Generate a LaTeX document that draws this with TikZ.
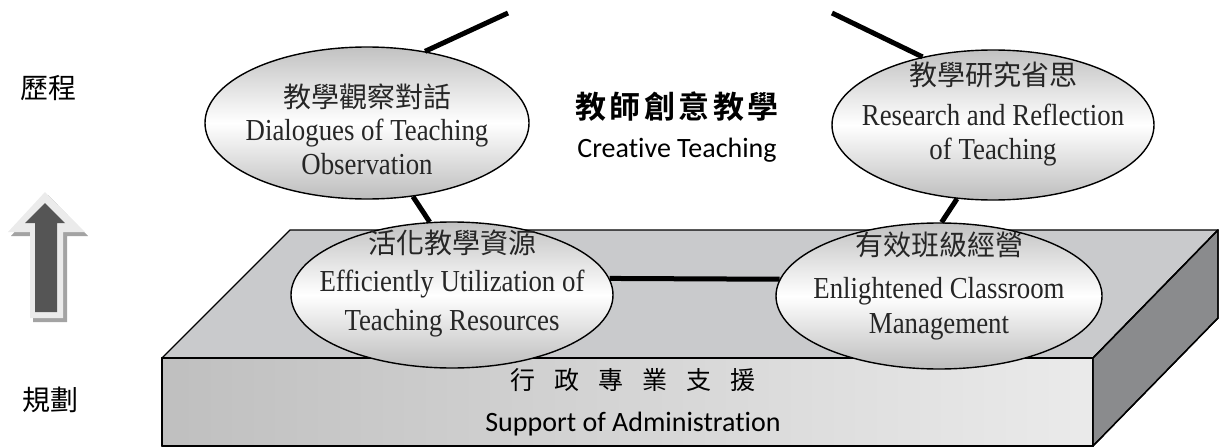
\documentclass[tikz,border=0pt]{standalone}
\usepackage{fontspec}
\setmainfont{Liberation Serif}[FakeStretch=0.88]
\newfontfamily\cjk{Noto Sans CJK TC}
\newfontfamily\cjkbold{Noto Sans CJK TC Bold}[LetterSpace=11]
\newfontfamily\cjkwide{Noto Sans CJK TC}[WordSpace=3.4]
\newfontfamily\carl{Carlito}[Ligatures=NoCommon]
\usetikzlibrary{shapes.geometric}
\definecolor{topface}{HTML}{C9CACC}
\definecolor{sideface}{HTML}{8A8B8D}
\definecolor{arrdark}{HTML}{555555}
\definecolor{arrlight}{HTML}{EBEBEB}
\definecolor{arrshadow}{HTML}{A3A3A3}
\tikzset{
  oval/.style={ellipse, draw=black, line width=1.4pt, inner sep=0pt,
    minimum width=324pt, minimum height=152pt,
    top color=black!24, bottom color=black!26, middle color=white},
  face/.style={draw=black, line width=1.4pt, line join=round},
  link/.style={line width=5pt, black},
  cjktext/.style={font=\cjk\fontsize{28}{30}\selectfont, inner sep=0pt, text=black!85},
  entext/.style={font=\fontsize{30.5}{32}\selectfont, inner sep=0pt, text=black!85},
  sidelabel/.style={font=\cjk\fontsize{28}{30}\selectfont, inner sep=0pt}
}
\begin{document}
\begin{tikzpicture}[x=1pt,y=-1pt]
\useasboundingbox (0,0) rectangle (1224,447);
% arrow
\fill[arrshadow] (48,195) -- (88,236) -- (67,236) -- (67,322) -- (33,322) -- (33,236) -- (11,236) -- cycle;
\fill[arrlight] (45,192) -- (85,232) -- (63,232) -- (63,318) -- (30,318) -- (30,232) -- (8,232) -- cycle;
\fill[arrdark] (45,203) -- (65,223) -- (57,223) -- (57,312) -- (35,312) -- (35,223) -- (25,223) -- cycle;
% side labels
\node[sidelabel] (lp) at (48,88) {歷程};
\node[sidelabel] (lg) at (51,400) {規劃};
% slab
\fill[face, fill=topface] (162,358) -- (290,230) -- (1218,230) -- (1093,358) -- cycle;
\fill[face, left color=black!25, right color=black!8] (162,358) rectangle (1093,446);
\draw[face] (162,358) rectangle (1093,446);
\fill[face, fill=sideface] (1093,358) -- (1218,230) -- (1218,318) -- (1093,446) -- cycle;
\draw[face] (1093,358) -- (1218,230) -- (1218,318) -- (1093,446) -- cycle;
% ellipses
\node[oval] (E1) at (367,123) {};
\node[oval, minimum width=322pt, minimum height=150pt] (E2) at (993,125) {};
\node[oval, minimum width=322pt, minimum height=146pt] (E3) at (452,295) {};
\node[oval, minimum width=326pt, minimum height=146pt] (E4) at (939,296) {};
% connectors
\coordinate (t1) at (508,13);
\coordinate (t2) at (832,13);
\draw[link] (E1.51) -- (t1);
\draw[link] (E2.136) -- (t2);
\draw[link] (E1.-58) -- (E3.107);
\draw[link] (E2.-116) -- (E4.88);
\draw[link] (E3.6) -- (E4.174);
% ellipse texts
\node[cjktext] (E1a) at (367,97) {教學觀察對話};
\node[entext] (E1b) at (367,133) {Dialogues of Teaching};
\node[entext] (E1c) at (367,164) {Observation};
\node[cjktext] (E2a) at (993,75) {教學研究省思};
\node[entext] (E2b) at (993,115) {Research and Reflection};
\node[entext] (E2c) at (993,152) {of Teaching};
\node[cjktext] (E3a) at (452,243) {活化教學資源};
\node[entext] (E3b) at (452,284) {Efficiently Utilization of};
\node[entext] (E3c) at (452,323) {Teaching Resources};
\node[cjktext] (E4a) at (939,245) {有效班級經營};
\node[entext] (E4b) at (939,291) {Enlightened Classroom};
\node[entext] (E4c) at (939,327) {Management};
% title
\node[font=\cjkbold\fontsize{31}{33}\selectfont, inner sep=0pt] (T1) at (677,107) {教師創意教學};
\node[font=\carl\fontsize{28}{30}\selectfont, inner sep=0pt] (T2) at (677,150) {Creative Teaching};
% bottom
\node[font=\cjkwide\fontsize{25}{28}\selectfont, inner sep=0pt] (B1) at (633,380) {行 政 專 業 支 援};
\node[font=\carl\fontsize{28}{30}\selectfont, inner sep=0pt] (B2) at (633,424) {Support of Administration};
\end{tikzpicture}
\end{document}
